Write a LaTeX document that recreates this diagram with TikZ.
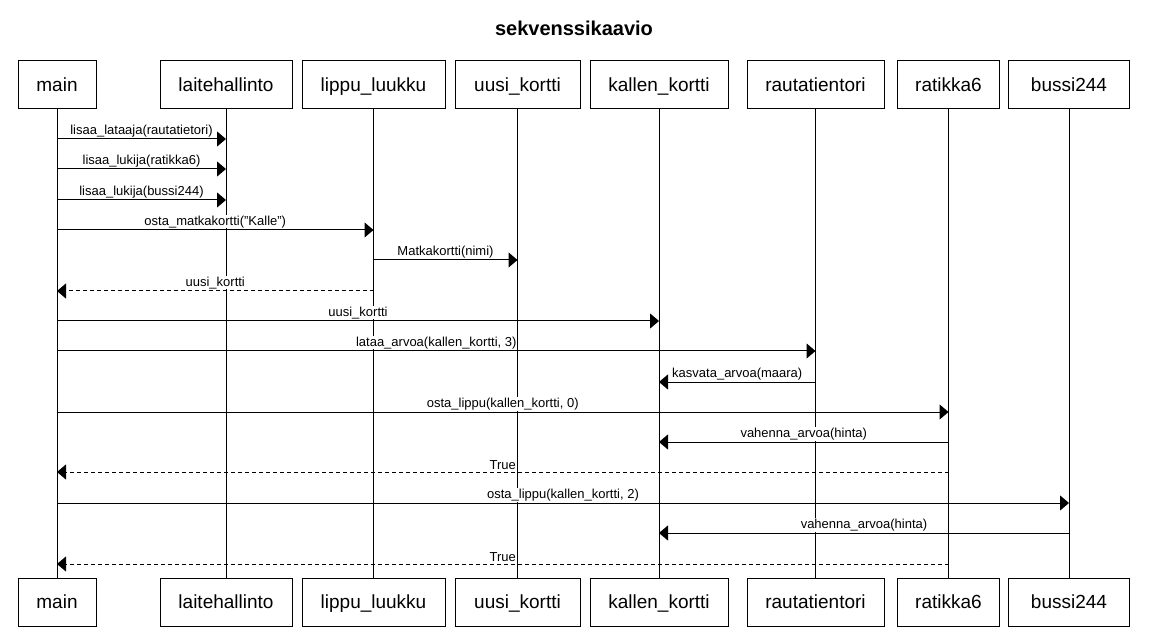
\documentclass[tikz,border=0pt]{standalone}
\usepackage{fontspec}
\setmainfont{Liberation Sans}
\usetikzlibrary{arrows.meta, positioning}

\begin{document}
\begin{tikzpicture}[
        x=1pt, y=-1pt,
        actor/.style={rectangle, draw, line width=1pt, minimum width=#1, minimum height=48pt, inner sep=0pt, text height=16pt, text depth=3pt, font=\fontsize{19}{22}\selectfont},
        lifeline/.style={line width=1pt},
        msg/.style={line width=1pt, -{Triangle[length=9pt, width=15pt]}},
        reply/.style={msg, dash pattern=on 4pt off 3pt},
        lbl/.style={midway, above=1pt, fill=white, inner sep=0.5pt, font=\fontsize{13}{15}\selectfont}
    ]
        \useasboundingbox (0,0) rectangle (1149,636);

        % Title
        \node[font=\bfseries\fontsize{20}{24}\selectfont] (title) at (574,28) {sekvenssikaavio};

        % Participants (top)
        \node[actor=78pt] (main) at (57,85) {main};
        \node[actor=132pt] (laite) at (226,85) {laitehallinto};
        \node[actor=143pt] (luukku) at (373.5,85) {lippu\_luukku};
        \node[actor=125pt] (uusi) at (517.5,85) {uusi\_kortti};
        \node[actor=138pt] (kallen) at (659,85) {kallen\_kortti};
        \node[actor=137pt] (rautatie) at (815.5,85) {rautatientori};
        \node[actor=102pt] (ratikka) at (948.5,85) {ratikka6};
        \node[actor=121pt] (bussi) at (1069,85) {bussi244};

        % Participants (bottom)
        \node[actor=78pt] (main2) at (57,602) {main};
        \node[actor=132pt] (laite2) at (226,602) {laitehallinto};
        \node[actor=143pt] (luukku2) at (373.5,602) {lippu\_luukku};
        \node[actor=125pt] (uusi2) at (517.5,602) {uusi\_kortti};
        \node[actor=138pt] (kallen2) at (659,602) {kallen\_kortti};
        \node[actor=137pt] (rautatie2) at (815.5,602) {rautatientori};
        \node[actor=102pt] (ratikka2) at (948.5,602) {ratikka6};
        \node[actor=121pt] (bussi2) at (1069,602) {bussi244};

        % Lifelines
        \draw[lifeline] (main) -- (main2);
        \draw[lifeline] (laite) -- (laite2);
        \draw[lifeline] (luukku) -- (luukku2);
        \draw[lifeline] (uusi) -- (uusi2);
        \draw[lifeline] (kallen) -- (kallen2);
        \draw[lifeline] (rautatie) -- (rautatie2);
        \draw[lifeline] (ratikka) -- (ratikka2);
        \draw[lifeline] (bussi) -- (bussi2);

        % Setup
        \draw[msg] (main |- 0,139) -- (laite |- 0,139) node[lbl] {lisaa\_lataaja(rautatietori)};
        \draw[msg] (main |- 0,169) -- (laite |- 0,169) node[lbl] {lisaa\_lukija(ratikka6)};
        \draw[msg] (main |- 0,200) -- (laite |- 0,200) node[lbl] {lisaa\_lukija(bussi244)};

        % Buying the card
        \draw[msg] (main |- 0,230) -- (luukku |- 0,230) node[lbl] {osta\_matkakortti("Kalle")};
        \draw[msg] (luukku |- 0,260) -- (uusi |- 0,260) node[lbl] {Matkakortti(nimi)};
        \draw[reply] (luukku |- 0,291) -- (main |- 0,291) node[lbl] {uusi\_kortti};
        \draw[msg] (main |- 0,321) -- (kallen |- 0,321) node[lbl] {uusi\_kortti};

        % Loading value
        \draw[msg] (main |- 0,351) -- (rautatie |- 0,351) node[lbl] {lataa\_arvoa(kallen\_kortti, 3)};
        \draw[msg] (rautatie |- 0,382) -- (kallen |- 0,382) node[lbl] {kasvata\_arvoa(maara)};

        % Tram ticket
        \draw[msg] (main |- 0,412) -- (ratikka |- 0,412) node[lbl] {osta\_lippu(kallen\_kortti, 0)};
        \draw[msg] (ratikka |- 0,442) -- (kallen |- 0,442) node[lbl] {vahenna\_arvoa(hinta)};
        \draw[reply] (ratikka |- 0,472) -- (main |- 0,472) node[lbl] {True};

        % Bus ticket
        \draw[msg] (main |- 0,503) -- (bussi |- 0,503) node[lbl] {osta\_lippu(kallen\_kortti, 2)};
        \draw[msg] (bussi |- 0,533) -- (kallen |- 0,533) node[lbl] {vahenna\_arvoa(hinta)};
        \draw[reply] (ratikka |- 0,564) -- (main |- 0,564) node[lbl] {True};
    \end{tikzpicture}
\end{document}
